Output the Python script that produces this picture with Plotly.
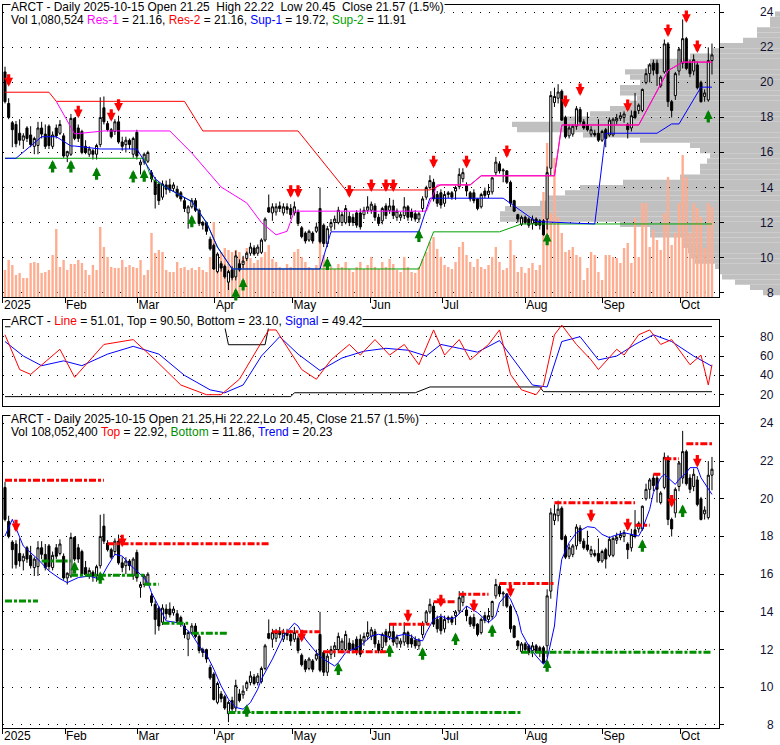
import plotly.graph_objects as go

# ---------------- price data (bar index 0 .. 193, daily) ----------------
opens = [20.6, 18.8, 17.7, 17.6, 17.1, 16.7, 17.4, 17.0, 16.35, 16.4,
         17.4, 17.05, 17.5, 16.35, 17.4, 17.1, 16.95, 15.8, 15.9, 17.95,
         17.4, 17.2, 16.35, 15.9, 16.1, 15.9, 16.45, 18.55, 17.65, 17.3,
         17.2, 17.75, 16.6, 16.45, 16.7, 15.9, 17.15, 15.3, 15.45, 15.5,
         14.85, 14.4, 14.2, 13.45, 14.15, 14.15, 13.95, 13.9, 13.7, 13.25,
         12.55, 12.9, 13.25, 12.7, 12.0, 12.0, 11.05, 10.7, 9.2, 9.65,
         9.5, 8.6, 9.3, 8.9, 9.65, 9.6, 9.95, 10.25, 10.55, 10.25,
         10.3, 11.0, 12.85, 12.55, 12.6, 12.95, 12.55, 12.9, 12.8, 12.55,
         12.6, 11.7, 11.4, 11.0, 11.4, 11.5, 12.8, 11.85, 10.8, 11.75,
         12.0, 12.0, 12.0, 12.0, 12.35, 12.3, 12.55, 12.55, 12.45, 12.7,
         12.7, 12.95, 12.3, 12.1, 12.95, 12.7, 12.95, 12.3, 12.3, 12.4,
         12.9, 12.6, 12.5, 12.2, 12.8, 13.45, 14.0, 14.3, 13.6, 13.7,
         13.1, 13.6, 13.7, 13.8, 14.05, 14.5, 14.1, 13.7, 13.7, 13.35,
         12.9, 13.8, 13.6, 13.75, 14.85, 15.35, 14.95, 14.95, 14.3, 13.25,
         12.45, 11.9, 12.3, 12.2, 11.95, 12.2, 12.1, 12.1, 12.2, 15.1,
         18.85, 19.1, 19.5, 18.0, 16.95, 17.05, 17.5, 18.45, 17.75, 17.55,
         17.05, 17.1, 17.1, 16.7, 17.3, 17.0, 17.0, 17.8, 17.95, 18.0,
         17.6, 17.4, 18.35, 18.4, 18.4, 20.0, 20.5, 21.1, 21.1, 19.8,
         20.6, 22.2, 18.9, 19.25, 20.65, 21.1, 22.5, 21.1, 20.65, 21.0,
         20.0, 19.2, 19.0, 21.25]
highs = [20.9, 19.1, 17.8, 17.8, 17.9, 17.1, 17.5, 17.5, 16.9, 17.75,
         17.75, 17.6, 17.6, 17.2, 17.6, 17.85, 17.1, 16.1, 18.2, 18.0,
         17.6, 17.3, 16.7, 16.35, 16.2, 16.5, 19.15, 19.2, 17.8, 17.4,
         17.9, 18.1, 16.9, 16.9, 16.8, 16.9, 17.3, 15.6, 16.0, 16.1,
         15.0, 14.6, 14.3, 14.4, 14.4, 14.5, 14.3, 14.1, 13.8, 13.4,
         13.0, 13.4, 13.4, 12.8, 12.1, 12.05, 11.2, 10.8, 10.3, 9.8,
         9.6, 9.3, 9.5, 10.4, 9.9, 10.1, 10.35, 10.85, 10.7, 10.75,
         11.1, 12.3, 13.6, 13.1, 13.1, 13.2, 13.1, 13.1, 13.05, 13.2,
         12.75, 11.8, 11.5, 11.6, 11.5, 12.0, 14.0, 11.95, 11.8, 12.2,
         12.4, 12.9, 12.6, 13.0, 12.6, 12.5, 12.7, 12.8, 12.9, 13.5,
         13.2, 13.1, 12.5, 12.9, 13.1, 13.4, 13.3, 12.8, 12.6, 13.45,
         13.0, 12.8, 12.7, 12.6, 13.5, 14.1, 14.7, 14.5, 13.8, 13.9,
         13.8, 13.8, 13.8, 14.1, 15.1, 15.1, 14.3, 13.8, 13.9, 13.4,
         13.7, 14.0, 14.2, 14.6, 15.75, 15.5, 15.1, 15.0, 14.4, 13.3,
         12.5, 12.4, 12.4, 12.3, 12.4, 12.3, 12.2, 12.2, 15.2, 19.5,
         19.7, 19.9, 19.6, 18.1, 17.6, 17.6, 18.65, 18.6, 17.9, 18.3,
         17.5, 17.3, 17.9, 17.3, 17.4, 18.0, 18.0, 18.2, 18.3, 18.35,
         17.7, 18.4, 19.4, 18.8, 19.65, 20.8, 21.1, 21.3, 21.3, 20.4,
         22.45, 22.3, 19.0, 20.6, 22.0, 23.6, 22.6, 21.3, 21.6, 21.2,
         20.1, 19.6, 22.0, 22.22]
lows = [18.8, 17.9, 16.3, 16.3, 16.4, 16.2, 16.6, 16.3, 15.9, 15.9,
        16.8, 16.2, 16.2, 16.2, 16.8, 17.0, 15.7, 15.45, 15.8, 16.7,
        16.6, 15.9, 15.9, 15.75, 15.6, 15.6, 16.3, 17.6, 17.2, 16.8,
        17.0, 16.5, 16.1, 16.0, 16.2, 15.7, 15.6, 14.75, 15.3, 15.4,
        14.3, 12.8, 13.0, 13.3, 13.6, 13.7, 13.8, 13.4, 13.2, 12.6,
        11.65, 12.8, 12.6, 11.8, 11.6, 11.3, 10.4, 9.3, 9.1, 9.2,
        8.8, 8.15, 8.7, 8.7, 9.2, 9.4, 9.8, 10.1, 10.1, 10.1,
        10.2, 10.9, 12.55, 12.1, 12.4, 12.6, 12.4, 12.5, 12.2, 12.4,
        11.8, 11.1, 10.8, 10.9, 10.8, 11.4, 10.8, 10.6, 10.6, 11.5,
        11.6, 11.9, 11.8, 11.9, 11.8, 11.8, 11.7, 11.6, 12.2, 12.5,
        12.5, 12.1, 11.8, 11.9, 12.2, 12.5, 12.2, 12.1, 12.1, 12.2,
        12.1, 12.1, 12.05, 12.0, 12.6, 13.3, 13.9, 13.2, 12.9, 12.8,
        12.9, 13.4, 13.3, 13.3, 13.9, 14.3, 13.5, 13.2, 13.1, 12.7,
        12.8, 13.4, 13.4, 13.6, 14.7, 14.8, 14.3, 14.2, 12.9, 12.6,
        12.0, 11.8, 11.9, 11.7, 11.6, 11.8, 11.6, 11.25, 11.6, 14.7,
        18.6, 18.8, 17.8, 16.8, 16.8, 16.9, 17.3, 17.6, 17.3, 17.2,
        16.9, 16.9, 16.6, 16.6, 16.3, 16.9, 16.9, 17.6, 17.8, 17.7,
        16.8, 17.2, 17.9, 18.2, 18.3, 19.9, 20.0, 20.4, 19.8, 19.7,
        20.5, 18.6, 18.0, 19.0, 20.4, 20.8, 20.7, 20.3, 20.4, 19.6,
        18.85, 18.9, 18.9, 20.45]
closes = [18.9, 18.0, 17.3, 16.5, 16.7, 16.95, 16.8, 16.45, 16.8, 17.4,
          17.05, 16.35, 16.4, 17.0, 16.95, 17.6, 15.8, 16.05, 17.95, 16.8,
          16.8, 16.0, 16.0, 16.2, 15.9, 16.4, 18.0, 17.75, 17.3, 16.9,
          17.75, 16.6, 16.35, 16.7, 16.45, 16.8, 15.8, 15.45, 15.9, 16.0,
          14.5, 13.6, 13.25, 14.2, 13.9, 13.85, 14.15, 13.5, 13.35, 12.8,
          12.9, 13.25, 12.7, 11.95, 11.85, 11.5, 10.5, 9.35, 10.2, 9.4,
          8.9, 9.2, 8.85, 10.1, 9.3, 9.8, 10.25, 10.6, 10.2, 10.6,
          11.0, 12.2, 12.6, 12.9, 12.9, 12.8, 12.9, 12.75, 12.45, 12.9,
          11.95, 11.2, 10.95, 11.5, 10.95, 11.75, 10.9, 10.8, 11.65, 12.0,
          12.2, 12.7, 12.45, 12.8, 12.0, 12.0, 11.85, 11.75, 12.7, 12.9,
          13.05, 12.3, 11.95, 12.8, 12.4, 12.95, 12.4, 12.65, 12.45, 12.9,
          12.3, 12.3, 12.2, 12.5, 13.35, 14.0, 14.4, 13.35, 13.1, 13.0,
          13.6, 13.7, 13.45, 14.0, 14.75, 14.85, 13.8, 13.35, 13.25, 12.8,
          13.6, 13.55, 13.8, 14.55, 15.45, 14.95, 15.0, 14.3, 13.1, 12.65,
          12.2, 12.3, 12.0, 11.85, 12.2, 11.85, 11.85, 11.3, 14.85, 19.25,
          19.2, 19.45, 17.85, 16.9, 17.4, 17.5, 18.5, 17.75, 17.4, 17.3,
          17.3, 17.0, 16.7, 17.2, 16.8, 17.85, 17.9, 17.95, 18.1, 18.2,
          17.3, 18.1, 18.0, 18.7, 19.6, 20.5, 21.0, 20.7, 20.5, 20.3,
          22.2, 18.9, 18.4, 20.5, 21.9, 22.5, 20.8, 20.5, 21.3, 19.7,
          18.9, 19.4, 21.25, 21.57]
volume_k = [324, 444, 384, 264, 288, 228, 228, 408, 420, 408,
            288, 300, 324, 504, 816, 360, 444, 324, 396, 396,
            444, 408, 324, 264, 384, 324, 840, 600, 480, 360,
            348, 348, 444, 360, 384, 360, 348, 444, 264, 324,
            768, 528, 564, 540, 324, 300, 300, 420, 348, 360,
            324, 348, 324, 360, 324, 300, 480, 900, 480, 540,
            588, 564, 540, 564, 540, 480, 588, 468, 408, 444,
            480, 540, 624, 456, 420, 360, 336, 396, 360, 540,
            576, 480, 420, 360, 336, 384, 660, 504, 432, 360,
            336, 396, 360, 420, 336, 300, 360, 420, 336, 384,
            480, 360, 336, 420, 360, 456, 396, 324, 300, 480,
            360, 300, 288, 360, 456, 540, 660, 720, 576, 480,
            384, 360, 336, 420, 600, 660, 504, 420, 360, 456,
            360, 336, 384, 480, 600, 420, 324, 348, 684, 504,
            300, 360, 288, 348, 408, 324, 384, 1260, 1848, 1008,
            1668, 960, 768, 540, 564, 600, 504, 480, 204, 348,
            540, 504, 300, 204, 504, 504, 480, 468, 408, 588,
            648, 408, 948, 480, 1128, 1128, 600, 804, 684, 564,
            1008, 1440, 624, 768, 1128, 1704, 1440, 768, 1128, 1068,
            960, 588, 1128, 1080]

month_text = ['2025', 'Feb', 'Mar', 'Apr', 'May', 'Jun', 'Jul', 'Aug', 'Sep', 'Oct']
month_pos = [-0.55, 16.4, 36.2, 57.3, 78.5, 99.7, 119.4, 142.0, 163.1, 184.3]
price_ticks = [8, 10, 12, 14, 16, 18, 20, 22, 24]
osc_ticks = [20, 40, 60, 80]

# volume-at-price profile (relative volume per 0.3 price bin)
profile_price = [8.0, 8.3, 8.6, 8.9, 9.2, 9.5, 9.8, 10.1, 10.4, 10.7,
                 11.0, 11.3, 11.6, 11.9, 12.2, 12.5, 12.8, 13.1, 13.4, 13.7,
                 14.0, 14.3, 14.6, 14.9, 15.2, 15.5, 15.8, 16.1, 16.4, 16.7,
                 17.0, 17.3, 17.6, 17.9, 18.2, 18.5, 18.8, 19.1, 19.4, 19.7,
                 20.0, 20.3, 20.6, 20.9, 21.2, 21.5, 21.8, 22.1, 22.4, 22.7,
                 23.0, 23.3, 23.6, 23.9]
profile_vol = [17, 30, 45, 58, 60, 65, 85, 90, 92, 97,
               97, 130, 130, 160, 280, 280, 275, 240, 233, 215,
               200, 157, 100, 80, 80, 73, 70, 80, 90, 140,
               197, 263, 268, 220, 190, 170, 150, 143, 160, 160,
               140, 150, 155, 133, 130, 90, 67, 60, 37, 23,
               23, 10, 10, 5]

# support / resistance levels (top panel), value at bar index
res2_idx = [0, 12, 14, 49, 54, 80, 93, 116, 119, 127, 130, 150, 152, 173, 181, 185, 193]
res2_val = [19.44, 19.44, 18.92, 18.92, 17.23, 17.23, 13.86, 13.86, 14.15, 14.15, 14.67, 14.67, 17.57, 17.57, 20.67, 21.16, 21.16]
res1_idx = [14, 19, 27, 45, 51, 59, 66, 70, 74, 77, 79, 115, 118, 127, 130, 150, 152, 173, 181, 185, 193]
res1_val = [18.92, 17.06, 17.23, 17.23, 15.97, 14.03, 13.12, 12.0, 11.3, 11.5, 12.65, 12.65, 14.15, 14.15, 14.67, 14.67, 17.57, 17.57, 20.67, 21.16, 21.16]
sup1_idx = [0, 3, 10, 14, 18, 19, 26, 36, 41, 44, 51, 55, 58, 62, 86, 89, 113, 116, 136, 145, 161, 164, 178, 182, 184, 190, 193]
sup1_val = [15.67, 15.67, 16.9, 16.9, 16.37, 16.37, 16.2, 16.2, 14.5, 14.0, 13.2, 12.0, 10.6, 9.35, 9.35, 11.47, 11.47, 13.39, 13.39, 12.06, 11.92, 17.1, 17.1, 17.63, 17.63, 19.73, 19.73]
sup2_idx = [0, 38, 40, 44, 51, 55, 58, 62, 113, 117, 135, 141, 193]
sup2_val = [15.67, 15.67, 14.5, 14.0, 13.2, 12.0, 10.6, 9.35, 9.35, 11.47, 11.47, 11.92, 11.92]

# signals top panel
top_sell_idx = [1, 20, 29, 31, 78, 80, 94, 100, 104, 106, 117, 126, 137, 153, 157, 170, 181, 186, 189]
top_sell_val = [19.76, 17.95, 17.76, 18.33, 13.41, 13.41, 13.41, 13.75, 13.75, 13.75, 15.1, 15.1, 15.69, 18.54, 19.23, 18.31, 22.6, 23.39, 21.68]
top_buy_idx = [13, 18, 25, 35, 38, 51, 63, 65, 88, 113, 148, 192]
top_buy_val = [15.57, 15.57, 15.16, 15.0, 15.04, 12.44, 8.27, 8.83, 10.0, 11.6, 11.42, 18.42]

# oscillator (middle panel)
osc_idx = [0, 4, 7, 15, 19, 27, 35, 41, 48, 55, 59, 64, 72, 74, 81, 85, 89, 94, 97, 101, 105, 109, 113, 117,
           120, 124, 127, 132, 135, 138, 141, 145, 147, 150, 152, 156, 160, 162, 167, 169, 173, 176, 179, 182,
           187, 190, 192, 193]
osc_val = [82, 46, 41, 67, 38, 72, 77, 56, 30, 20, 20, 36, 87, 87, 46, 36, 56, 72, 61, 77, 61, 72, 51, 87,
           61, 77, 56, 72, 87, 41, 25, 20, 30, 82, 92, 72, 56, 46, 67, 61, 82, 87, 72, 77,
           51, 61, 30, 51.01]
sig_idx = [0, 5, 10, 16, 21, 28, 35, 42, 49, 56, 60, 65, 70, 75, 80, 86, 92, 98, 104, 110, 115, 119, 124, 129,
           135, 139, 144, 148, 152, 157, 162, 167, 172, 177, 182, 188, 193]
sig_val = [75, 60, 50, 55, 50, 62, 70, 62, 40, 25, 22, 30, 60, 80, 62, 45, 58, 65, 68, 66, 60, 72, 68, 64,
           76, 55, 30, 28, 75, 80, 56, 60, 72, 82, 75, 60, 49.42]
otop_idx = [0, 60, 61, 71, 72, 193]
otop_val = [90.3, 90.3, 71.7, 71.7, 90.5, 90.5]
obot_idx = [0, 78, 79, 112, 116, 146, 147, 193]
obot_val = [18, 18, 22, 22, 28, 28, 23.1, 23.1]

# trend (bottom panel)
trend_idx = [0, 2, 5, 9, 12, 15, 17, 20, 23, 26, 28, 30, 32, 34, 37, 39, 40, 42, 44, 48, 49, 51, 53, 55, 57, 59,
             61, 63, 65, 67, 69, 70, 73, 76, 79, 80, 82, 85, 87, 90, 91, 93, 95, 97, 99, 100, 102, 104, 106,
             107, 109, 111, 112, 114, 115, 117, 119, 121, 123, 125, 126, 129, 131, 132, 134, 135, 137, 138,
             140, 141, 143, 145, 147, 148, 150, 151, 152, 154, 156, 159, 161, 163, 165, 166, 169, 171, 173,
             174, 176, 177, 179, 180, 181, 183, 184, 186, 187, 189, 190, 192, 193]
trend_val = [18.02, 18.91, 17.49, 16.79, 16.17, 15.76, 15.55, 15.82, 15.9, 15.73, 16.43, 17.05, 16.96, 16.52,
             15.99, 15.55, 15.02, 14.23, 13.52, 13.4, 13.17, 12.81, 12.19, 11.75, 10.96, 10.07, 9.37, 8.93,
             8.84, 9.19, 9.9, 10.43, 11.49, 12.72, 13.4, 13.25, 12.55, 11.84, 11.49, 11.13, 11.31, 11.84,
             12.02, 12.19, 12.55, 12.72, 12.81, 12.72, 12.55, 12.72, 12.81, 12.72, 12.55, 12.46, 12.9, 13.61,
             13.78, 13.61, 13.7, 14.14, 14.31, 13.96, 13.61, 13.43, 13.78, 14.49, 14.93, 14.67, 13.78, 12.9,
             12.19, 11.66, 11.22, 11.49, 13.25, 15.37, 16.79, 17.67, 18.2, 18.52, 18.47, 18.11, 17.94, 18.02,
             18.2, 18.11, 18.02, 18.38, 19.44, 20.32, 21.12, 21.29, 21.12, 20.76, 21.03, 21.38, 21.65, 21.65,
             21.12, 20.5, 20.23]
top_seg_start = [0, 28, 73, 87, 105, 117, 124, 135, 150, 172, 177, 180, 186]
top_seg_end = [27, 72, 86, 104, 116, 123, 132, 150, 172, 176, 179, 184, 193]
top_seg_level = [20.98, 17.62, 12.94, 11.88, 13.34, 14.54, 14.93, 15.5, 19.79, 18.59, 21.3, 22.12, 22.92]
bot_seg_start = [0, 10, 18, 38, 43, 51, 61, 141]
bot_seg_end = [9, 18, 38, 42, 50, 61, 141, 193]
bot_seg_level = [14.58, 16.7, 15.94, 15.46, 13.4, 12.87, 8.66, 11.86]
bot_sell_idx = [3, 32, 81, 110, 119, 128, 138, 160, 170, 182, 189]
bot_sell_val = [18.22, 17.43, 12.39, 13.45, 14.24, 13.98, 14.77, 18.75, 18.27, 19.54, 21.66]
bot_buy_idx = [19, 26, 66, 91, 105, 114, 123, 133, 148, 174, 185]
bot_buy_val = [16.68, 16.15, 9.1, 11.32, 12.28, 12.12, 12.91, 13.34, 11.49, 17.85, 19.7]

# ---------------- figure ----------------
W, H = 780, 745
bars = list(range(len(closes)))
FONT = 'Liberation Sans, Arial, sans-serif'
L, R = 3 / W, 719 / W
top_dom = [1 - 297 / H, 1 - 5 / H]
mid_dom = [1 - 406 / H, 1 - 319.5 / H]
bot_dom = [1 - 728 / H, 1 - 416 / H]
xr = [-0.546, 194.92]
top_rng = [7.75, 24.42]
mid_rng = [8.3, 97.8]
bot_rng = [7.84, 24.39]

fig = go.Figure()

# volume profile (subplot x/y, drawn first = underneath)
fig.add_trace(go.Bar(x=profile_vol, y=profile_price, orientation='h', width=0.3,
                     marker=dict(color='#C0C0C0', line=dict(width=0)),
                     xaxis='x', yaxis='y', hoverinfo='skip'))

# volume bars
fig.add_trace(go.Bar(x=bars, y=volume_k, width=0.65,
                     marker=dict(color='#FFAD90', line=dict(width=0)),
                     xaxis='x2', yaxis='y2', hoverinfo='skip'))

candle_style = dict(increasing=dict(line=dict(color='black', width=1), fillcolor='white'),
                    decreasing=dict(line=dict(color='black', width=1), fillcolor='black'),
                    whiskerwidth=0, hoverinfo='skip')
fig.add_trace(go.Candlestick(x=bars, open=opens, high=highs, low=lows, close=closes,
                             xaxis='x2', yaxis='y3', **candle_style))
for ix, vals, col in [(sup2_idx, sup2_val, '#00A000'), (sup1_idx, sup1_val, '#0000FF'),
                      (res2_idx, res2_val, '#FF0000'), (res1_idx, res1_val, '#FF00FF')]:
    fig.add_trace(go.Scatter(x=ix, y=vals, mode='lines', line=dict(color=col, width=1),
                             xaxis='x2', yaxis='y3', hoverinfo='skip'))

# middle panel
for ix, vals, col in [(otop_idx, otop_val, 'black'), (obot_idx, obot_val, 'black'),
                      (sig_idx, sig_val, '#0000FF'), (osc_idx, osc_val, '#FF0000')]:
    fig.add_trace(go.Scatter(x=ix, y=vals, mode='lines', line=dict(color=col, width=1),
                             xaxis='x4', yaxis='y4', hoverinfo='skip'))

# bottom panel
fig.add_trace(go.Candlestick(x=bars, open=opens, high=highs, low=lows, close=closes,
                             xaxis='x5', yaxis='y5', **candle_style))
fig.add_trace(go.Scatter(x=trend_idx, y=trend_val, mode='lines', line=dict(color='#0000FF', width=1),
                         xaxis='x5', yaxis='y5', hoverinfo='skip'))


def seg_xy(starts, ends, levels):
    xs, ys = [], []
    for s, e, v in zip(starts, ends, levels):
        xs += [s, e, None]
        ys += [v, v, None]
    return xs, ys


for st, en, lv, col in [(bot_seg_start, bot_seg_end, bot_seg_level, '#009000'),
                        (top_seg_start, top_seg_end, top_seg_level, '#FF0000')]:
    sx, sy = seg_xy(st, en, lv)
    fig.add_trace(go.Scatter(x=sx, y=sy, mode='lines', line=dict(color=col, width=3, dash='7px,2px,3px,2px'),
                             xaxis='x5', yaxis='y5', hoverinfo='skip'))

annotations = []


def add_arrows(ix, vals, xref, yref, color, up):
    for i, v in zip(ix, vals):
        annotations.append(dict(x=i, y=v, xref=xref, yref=yref, text='', showarrow=True,
                                arrowhead=2, arrowsize=0.55, arrowwidth=3.2, arrowcolor=color,
                                ax=0, ay=(14 if up else -14)))


add_arrows(top_sell_idx, top_sell_val, 'x2', 'y3', '#FF0000', False)
add_arrows(top_buy_idx, top_buy_val, 'x2', 'y3', '#008000', True)
add_arrows(bot_sell_idx, bot_sell_val, 'x5', 'y5', '#FF0000', False)
add_arrows(bot_buy_idx, bot_buy_val, 'x5', 'y5', '#008000', True)

# right-hand value labels (right aligned near the page edge)
for yref, ticks in [('y3', price_ticks), ('y4', osc_ticks), ('y5', price_ticks)]:
    for t in ticks:
        annotations.append(dict(text=str(t), x=776 / W, xref='paper', y=t, yref=yref, xanchor='right',
                                yanchor='middle', showarrow=False,
                                font=dict(family=FONT, size=12, color='#111133')))

NB = '\u00a0'


def hdr(text, ypix, bg=True, size=12):
    return dict(text=text, x=10 / W, y=1 - ypix / H, xref='paper', yref='paper', xanchor='left',
                yanchor='middle', showarrow=False, font=dict(family=FONT, size=size, color='black'),
                bgcolor='white' if bg else 'rgba(0,0,0,0)', borderpad=0)


def c(t, col):
    return '<span style="color:%s">%s</span>' % (col, t)


annotations += [
    hdr('ARCT - Daily 2025-10-15 Open 21.25' + NB + ' High 22.22' + NB + ' Low 20.45' + NB + ' Close 21.57 (1.5%)', 7, True, 11.9),
    hdr('Vol 1,080,524 ' + c('Res-1', '#FF00FF') + ' = 21.16, ' + c('Res-2', '#FF0000') + ' = 21.16, '
        + c('Sup-1', '#0000FF') + ' = 19.72, ' + c('Sup-2', '#00A000') + ' = 11.91', 20, False, 11.9),
    hdr('ARCT - ' + c('Line', '#FF0000') + ' = 51.01, Top = 90.50, Bottom = 23.10, '
        + c('Signal', '#0000FF') + ' = 49.42', 321),
    hdr('ARCT - Daily 2025-10-15 Open 21.25,Hi 22.22,Lo 20.45, Close 21.57 (1.5%)', 419),
    hdr('Vol 108,052,400 ' + c('Top', '#FF0000') + ' = 22.92, ' + c('Bottom', '#009000') + ' = 11.86, '
        + c('Trend', '#0000FF') + ' = 20.23', 432, False),
]

frame = dict(showline=True, linecolor='black', linewidth=1, mirror=True, zeroline=False)
xcommon = dict(range=xr, showgrid=False, fixedrange=True, automargin=False, **frame)
xlab = dict(tickmode='array', tickvals=month_pos, ticktext=month_text, ticks='outside', ticklen=5,
            tickcolor='black', ticklabelposition='outside right', ticklabelstandoff=-3,
            tickfont=dict(family=FONT, size=12, color='black'))
ycommon = dict(side='right', ticks='outside', ticklen=4, tickcolor='black', showgrid=True,
               gridcolor='black', gridwidth=1, griddash='1px,8px', fixedrange=True, automargin=False,
               showticklabels=False, **frame)

fig.update_layout(
    width=W, height=H, margin=dict(l=0, r=0, t=0, b=0),
    paper_bgcolor='white', plot_bgcolor='rgba(0,0,0,0)',
    showlegend=False, hovermode=False, boxgap=0.2,
    font=dict(family=FONT, size=12, color='black'),
    xaxis=dict(domain=[L, 1.0], range=[777, 0], visible=False, anchor='y', fixedrange=True),
    yaxis=dict(domain=top_dom, range=top_rng, visible=False, anchor='x', fixedrange=True),
    xaxis2=dict(domain=[L, R], anchor='y2', rangeslider=dict(visible=False), **xcommon, **xlab),
    yaxis2=dict(domain=top_dom, range=[0, 3504], visible=False, anchor='x2', fixedrange=True),
    yaxis3=dict(overlaying='y2', anchor='x2', range=top_rng, tickvals=price_ticks, **ycommon),
    xaxis4=dict(domain=[L, R], anchor='y4', ticks='', showticklabels=False, **xcommon),
    yaxis4=dict(domain=mid_dom, anchor='x4', range=mid_rng, tickvals=osc_ticks, **ycommon),
    xaxis5=dict(domain=[L, R], anchor='y5', rangeslider=dict(visible=False), **xcommon, **xlab),
    yaxis5=dict(domain=bot_dom, anchor='x5', range=bot_rng, tickvals=price_ticks, **ycommon),
    annotations=annotations,
)

fig.write_html('out.html', config={'displayModeBar': False},
               post_script="document.body.style.margin='0px';document.body.style.overflow='hidden';")
